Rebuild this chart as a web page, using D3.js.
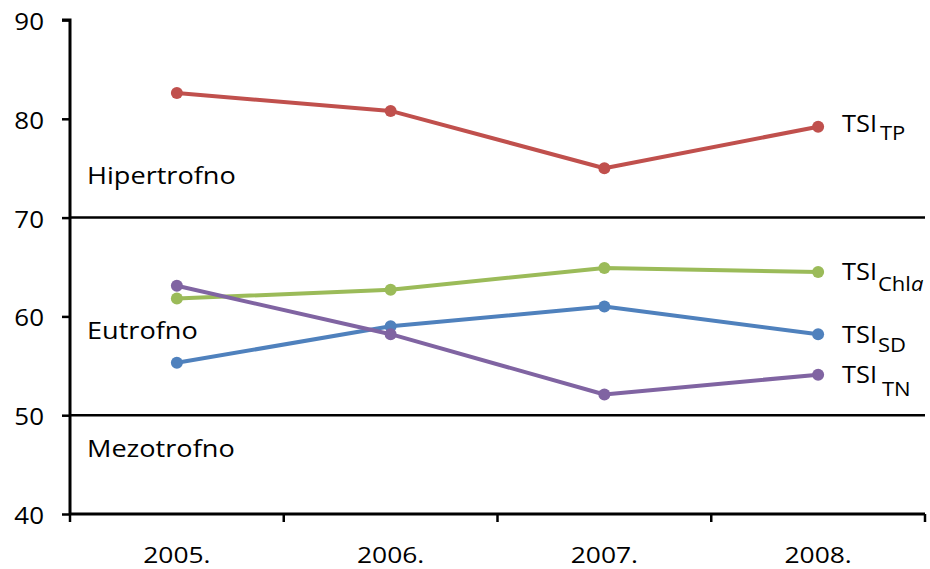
<!DOCTYPE html>
<html>
<head>
<meta charset="utf-8">
<script src="https://cdn.jsdelivr.net/npm/d3@7"></script>
<style>
  html, body { margin: 0; padding: 0; background: #fff; }
  svg text { font-family: "Open Sans", "Noto Sans", sans-serif; fill: #000; }
</style>
</head>
<body>
<svg id="chart" width="930" height="569"></svg>
<script>
// Trophic state index by year
const years = ["2005.", "2006.", "2007.", "2008."];
const tsiTP   = [82.6, 80.8, 75.0, 79.2];
const tsiChla = [61.8, 62.7, 64.9, 64.5];
const tsiSD   = [55.3, 59.0, 61.0, 58.2];
const tsiTN   = [63.1, 58.2, 52.1, 54.1];
const yTicks  = [40, 50, 60, 70, 80, 90];
const boundaries = [50, 70];
const zoneNames  = ["Hipertrofno", "Eutrofno", "Mezotrofno"];
const zoneLevels = [74.4, 58.7, 46.8];
const subNames   = ["TP", "Chla", "SD", "TN"];

const seriesValues = [tsiTP, tsiChla, tsiSD, tsiTN];
const colors = ["#C0504D", "#9BBB59", "#4F81BD", "#8064A2"];
// per-label baseline shifts (main text, subscript) and subscript start
const labelShift = [
  { main: 5.5, sub: 8,  subX: 880 },
  { main: 8,   sub: 11, subX: 878 },
  { main: 9,   sub: 9,  subX: 878 },
  { main: 8.5, sub: 13, subX: 882 }
];

const svg = d3.select("#chart");
const m = { left: 70, right: 925, top: 20, bottom: 514 };

const x = d3.scaleBand().domain(years).range([m.left, m.right]).padding(0);
const y = d3.scaleLinear().domain([40, 90]).range([m.bottom, m.top]);

// text slightly widened horizontally
function wideText(g, tx, ty, anchor, size, sx) {
  return g.append("g")
    .attr("transform", `translate(${tx},${ty}) scale(${sx},1)`)
    .append("text")
    .attr("text-anchor", anchor)
    .attr("font-size", size);
}

// zone boundary lines
svg.selectAll("line.bound").data(boundaries).enter().append("line")
  .attr("class", "bound")
  .attr("x1", m.left).attr("x2", m.right)
  .attr("y1", d => y(d)).attr("y2", d => y(d))
  .attr("stroke", "#000").attr("stroke-width", 2.5);

// y axis
const yAxis = svg.append("g").attr("transform", `translate(${m.left},0)`)
  .call(d3.axisLeft(y).tickValues(yTicks).tickSize(8).tickFormat(d3.format("d")));
yAxis.select(".domain").attr("stroke", "#000").attr("stroke-width", 3)
  .attr("d", `M-8,${m.top}H0V${m.bottom}`);
yAxis.selectAll(".tick line").attr("stroke", "#000").attr("stroke-width", 2.5);
yAxis.selectAll(".tick text").remove();
yTicks.forEach(t => {
  wideText(svg, 44, y(t) + 10, "end", 24, 1.08).text(t);
});

// x axis
const xAxis = svg.append("g").attr("transform", `translate(0,${m.bottom})`)
  .call(d3.axisBottom(x).tickSize(0).tickFormat(""));
xAxis.select(".domain").attr("stroke", "#000").attr("stroke-width", 3)
  .attr("d", `M${m.left},0H${m.right}`);
const sepTicks = years.map(d => x(d)).concat([m.right]);
svg.selectAll("line.xtick").data(sepTicks).enter().append("line")
  .attr("class", "xtick")
  .attr("x1", d => d).attr("x2", d => d)
  .attr("y1", m.bottom).attr("y2", m.bottom + 8)
  .attr("stroke", "#000").attr("stroke-width", 2.5);
years.forEach(yr => {
  wideText(svg, x(yr) + x.bandwidth() / 2, 563, "middle", 22, 1.2).text(yr);
});

// zone labels
zoneNames.forEach((name, i) => {
  wideText(svg, 87, y(zoneLevels[i]) + 10, "start", 24, 1.13).text(name);
});

// series lines and markers
const cx = d => x(d) + x.bandwidth() / 2;
const line = d3.line().x((v, i) => cx(years[i])).y(v => y(v));

seriesValues.forEach((vals, k) => {
  svg.append("path").datum(vals)
    .attr("d", line)
    .attr("fill", "none")
    .attr("stroke", colors[k])
    .attr("stroke-width", 4)
    .attr("stroke-linejoin", "round");
  svg.selectAll(null).data(vals).enter().append("circle")
    .attr("cx", (v, i) => cx(years[i]))
    .attr("cy", v => y(v))
    .attr("r", 6)
    .attr("fill", colors[k]);
});

// series labels at the right end: TSI with subscript
seriesValues.forEach((vals, k) => {
  const last = y(vals[vals.length - 1]);
  const sh = labelShift[k];
  wideText(svg, 842, last + sh.main, "start", 24, 1.06).text("TSI");
  const sub = wideText(svg, sh.subX, last + sh.main + sh.sub, "start", 20, 1.1);
  if (subNames[k] === "Chla") {
    sub.append("tspan").text("Chl");
    sub.append("tspan").attr("font-style", "italic").text("a");
  } else {
    sub.text(subNames[k]);
  }
});
</script>
</body>
</html>
